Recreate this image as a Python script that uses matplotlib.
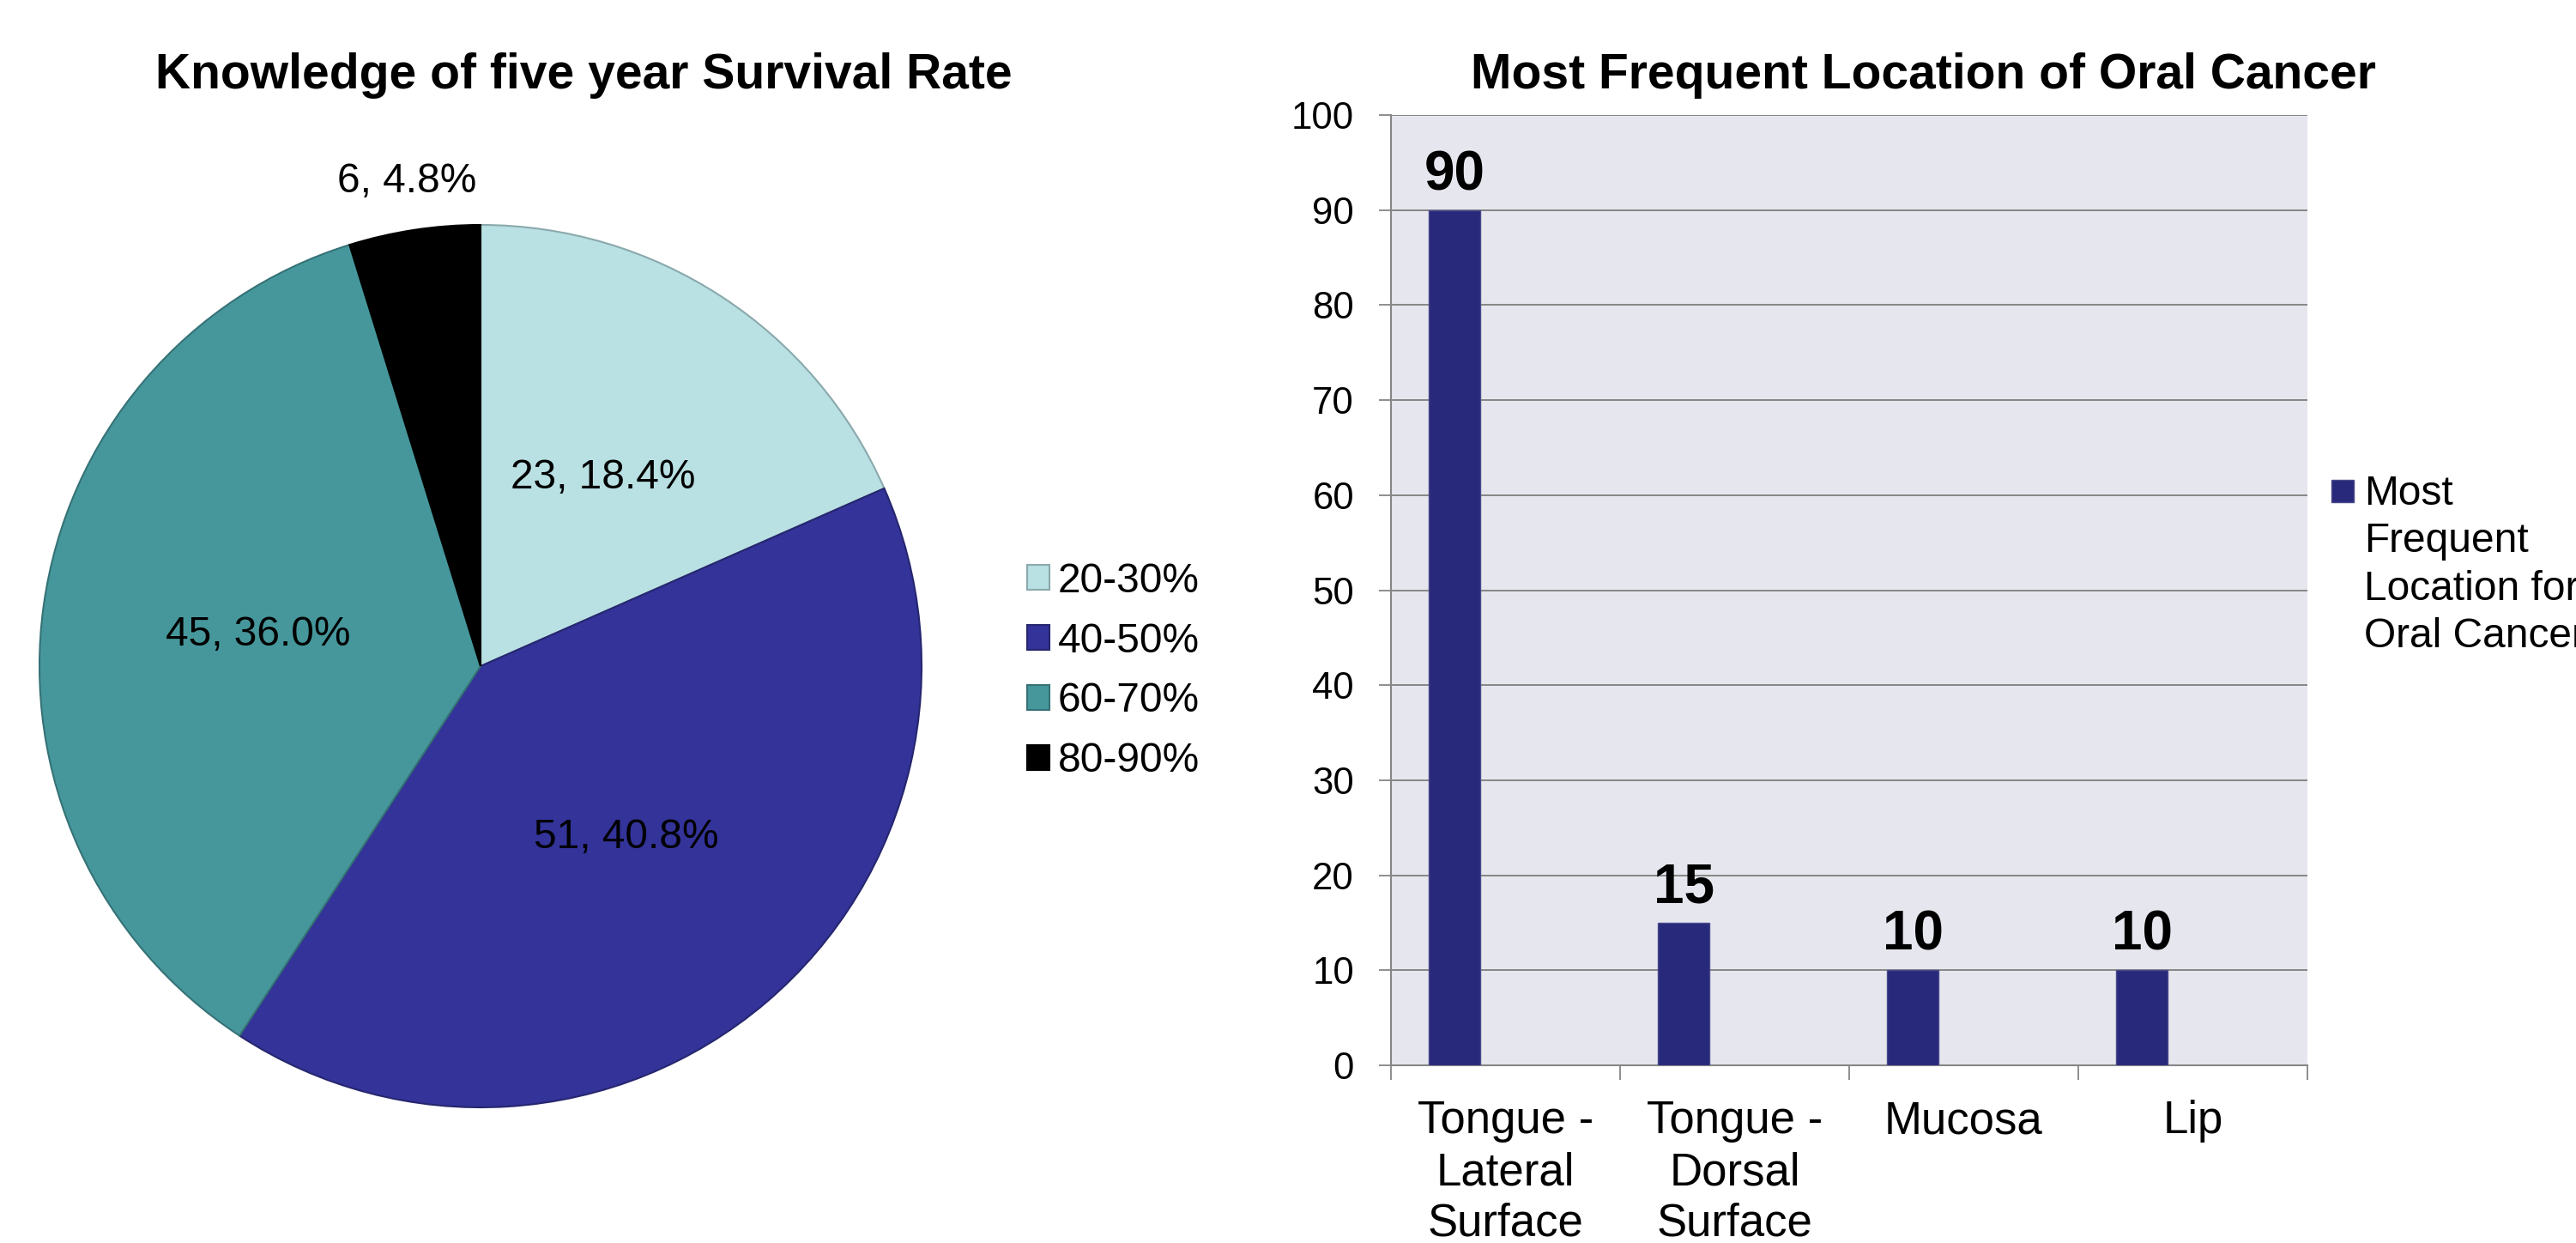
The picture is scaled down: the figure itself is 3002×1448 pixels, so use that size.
import numpy as np
import matplotlib
matplotlib.use("Agg")
import matplotlib.pyplot as plt
from matplotlib.patches import Patch, Rectangle

plt.rcParams['font.family'] = ['Liberation Sans', 'DejaVu Sans']

# pie data
survival_labels = ["20-30%", "40-50%", "60-70%", "80-90%"]
survival_counts = [23, 51, 45, 6]
survival_colors = ["#b9e0e3", "#333399", "#46979c", "#000000"]
survival_edges = ["#8aa9ac", "#26266f", "#357276", "#000000"]

# bar data
locations = ["Tongue -\nLateral\nSurface", "Tongue -\nDorsal\nSurface", "Mucosa", "Lip"]
location_counts = [90, 15, 10, 10]
bar_label = "Most\nFrequent\nLocation for\nOral Cancer"
y_ticks = [0, 10, 20, 30, 40, 50, 60, 70, 80, 90, 100]

W, H = 3002, 1448
fig = plt.figure(figsize=(W / 100, H / 100), dpi=100)


def fx(px):
    return px / W


def fy(py):
    return 1 - py / H


# ---- pie chart ----
cx, cy, r = 560, 776, 514
ax1 = fig.add_axes([fx(cx - r), fy(cy + r), 2 * r / W, 2 * r / H])
wedges, _ = ax1.pie(survival_counts, colors=survival_colors, startangle=90,
                    counterclock=False, radius=1,
                    wedgeprops=dict(linewidth=1.5))
for w, ec in zip(wedges, survival_edges):
    w.set_edgecolor(ec)
ax1.set_xlim(-1, 1)
ax1.set_ylim(-1, 1)

total = sum(survival_counts)
for w, n in zip(wedges, survival_counts):
    mid = np.deg2rad((w.theta1 + w.theta2) / 2)
    pct = n / total * 100
    dist = 1.11 if pct < 10 else 0.51
    ax1.text(dist * np.cos(mid), dist * np.sin(mid), f"{n}, {pct:.1f}%",
             ha='center', va='center', fontsize=34.5, color='black',
             clip_on=False)

fig.text(fx(680), fy(103), "Knowledge of five year Survival Rate",
         ha='center', va='baseline', fontsize=41, fontweight='bold')

handles = [Patch(facecolor=c, edgecolor=e, linewidth=1.5)
           for c, e in zip(survival_colors, survival_edges)]
fig.legend(handles, survival_labels, loc='center left',
           bbox_to_anchor=(fx(1197), fy(782)), frameon=False, fontsize=34.5,
           handlelength=0.543, handleheight=0.543, handletextpad=0.21,
           labelspacing=0.52, borderpad=0, borderaxespad=0)

# ---- bar chart ----
left, right, top, bottom = 1621, 2689, 134, 1241
ax2 = fig.add_axes([fx(left), fy(bottom), (right - left) / W, (bottom - top) / H])
ax2.set_facecolor("#e6e7ee")
x = np.arange(len(locations))
bars = ax2.bar(x - 0.2225, location_counts, width=0.225, color="#29297b",
               edgecolor="#4a4a8c", linewidth=1, zorder=3)
ax2.set_xlim(-0.5, len(locations) - 0.5)
ax2.set_ylim(0, 100)
ax2.set_yticks(y_ticks)
ax2.yaxis.grid(True, color="#868686", linewidth=1.4, zorder=0)
ax2.set_axisbelow(True)

for b, v in zip(bars, location_counts):
    ax2.annotate(str(v), (b.get_x() + b.get_width() / 2, v),
                 xytext=(0, 17), textcoords='offset points',
                 ha='center', va='baseline', fontsize=46, fontweight='bold')

for s in ['top', 'right']:
    ax2.spines[s].set_visible(False)
for s in ['left', 'bottom']:
    ax2.spines[s].set_color("#868686")
    ax2.spines[s].set_linewidth(1.5)

ax2.set_xticks(x)
ax2.set_xticklabels(locations, fontsize=38, linespacing=1.25)
ax2.set_xticks(np.arange(len(locations) + 1) - 0.5, minor=True)
ax2.tick_params(axis='x', which='major', length=0, pad=29)
ax2.tick_params(axis='x', which='minor', length=12, width=1.3, color="#868686")
ax2.tick_params(axis='y', which='major', length=10, width=1.3, color="#868686",
                labelsize=31.5, pad=21)

fig.text(fx(2241), fy(103), "Most Frequent Location of Oral Cancer",
         ha='center', va='baseline', fontsize=41, fontweight='bold')

# legend for the bar series (runs off the right edge, as in the original)
fig.patches.append(Rectangle((fx(2717), fy(585)), 26 / W, 26 / H,
                             facecolor="#29297b", edgecolor="#4a4a8c",
                             transform=fig.transFigure, figure=fig))
fig.text(fx(2755), fy(553), bar_label, ha='left', va='top',
         fontsize=34.5, linespacing=1.3)

fig.savefig("out.png", dpi=100)
